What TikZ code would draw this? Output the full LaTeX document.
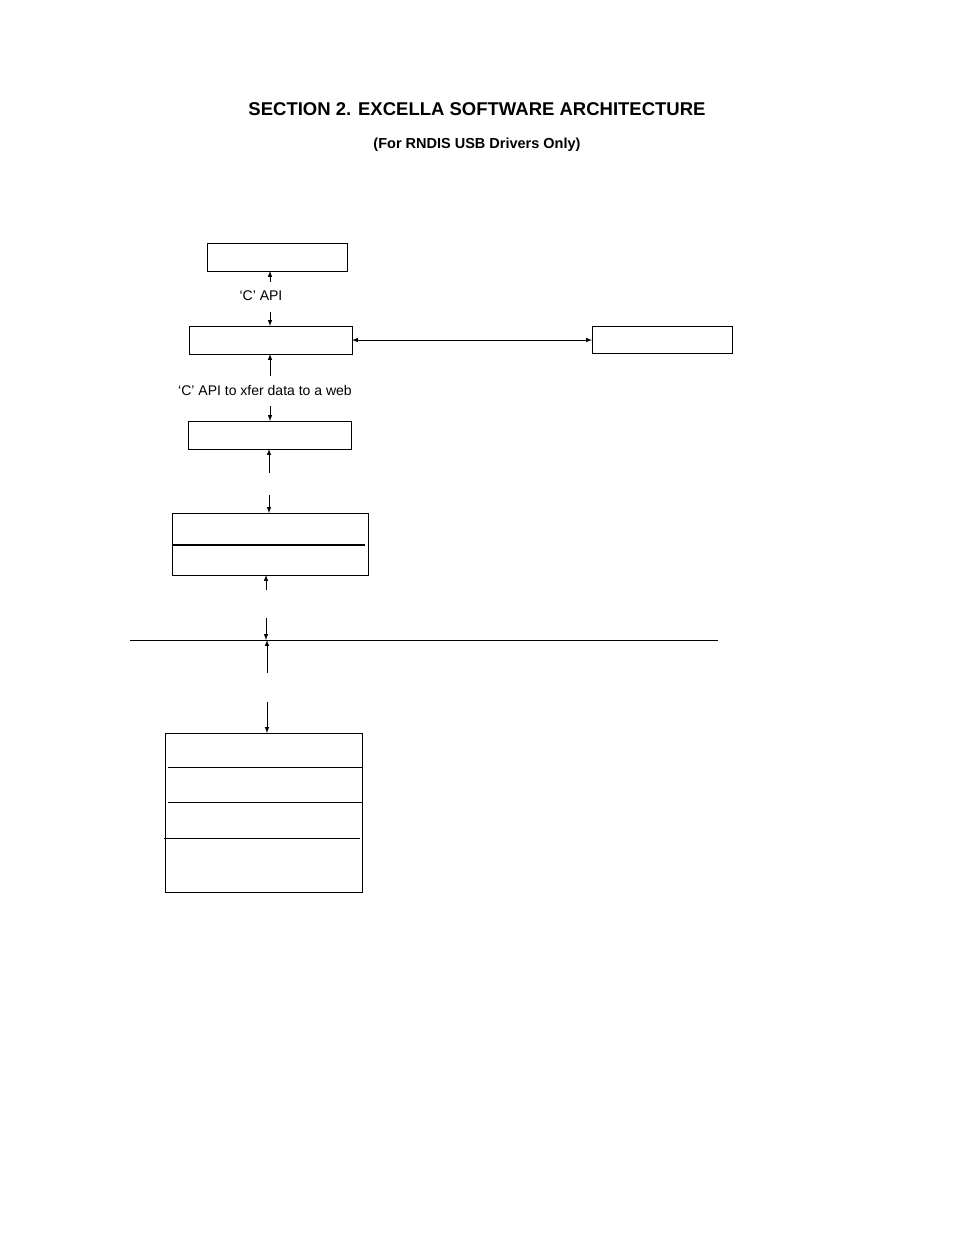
\documentclass[tikz,border=0pt]{standalone}
\usepackage{fontspec}
\setmainfont{Liberation Sans}
\usetikzlibrary{arrows,positioning}

\begin{document}
\begin{tikzpicture}[x=1pt,y=-1pt,line width=1pt,
  blk/.style={draw,line width=0.9pt},
  lbl/.style={font=\fontsize{14}{16}\selectfont,inner sep=0pt},
  tip/.style={-latex}]
\useasboundingbox (0,0) rectangle (954,1235);
% title
\node[font=\bfseries\fontsize{18.5}{22}\selectfont] (title) at (477,109) {SECTION 2. EXCELLA SOFTWARE ARCHITECTURE};
\node[font=\bfseries\fontsize{14.5}{17}\selectfont] (subtitle) at (477,145) {(For RNDIS USB Drivers Only)};
% boxes
\draw[blk] (207,243) rectangle (347,271);
\draw[blk] (189,326) rectangle (352,354);
\draw[blk] (592,326) rectangle (732,353);
\draw[blk] (188,421) rectangle (351,449);
\draw[blk] (172,513) rectangle (368,575);
\draw[line width=1.6pt] (173,545) -- (365,545);
\draw[blk] (165,733) rectangle (362,892);
\draw (168,767) -- (363,767);
\draw (168,802) -- (363,802);
\draw (164,838) -- (360,838);
\draw (130,640) -- (718,640);
% labels
\node[lbl] (capi) at (261,296) {‘C’ API};
\node[lbl] (capiweb) at (265,390) {‘C’ API to xfer data to a web};
% arrows
\draw[tip] (270,282) -- (270,271);
\draw[tip] (270,312) -- (270,326);
\draw[latex-latex] (352,340) -- (592,340);
\draw[tip] (270,376) -- (270,354);
\draw[tip] (270,406) -- (270,421);
\draw[tip] (269,473) -- (269,449);
\draw[tip] (269,495) -- (269,513);
\draw[tip] (266,590) -- (266,575);
\draw[tip] (266,618) -- (266,640);
\draw[tip] (267,673) -- (267,640);
\draw[tip] (267,702) -- (267,733);
\end{tikzpicture}
\end{document}
